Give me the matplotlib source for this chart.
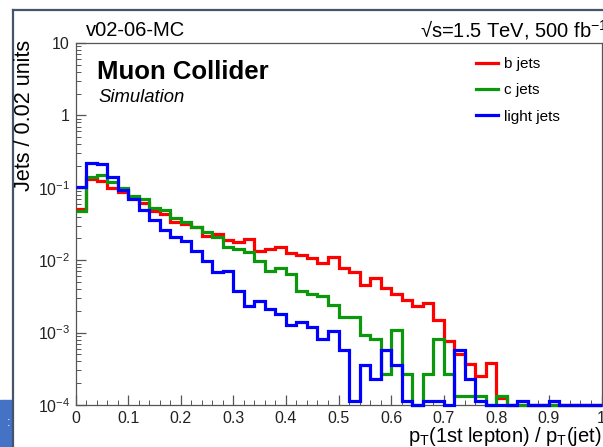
import matplotlib.pyplot as plt
import numpy as np
from matplotlib.lines import Line2D
from matplotlib.patches import Rectangle
from matplotlib.ticker import FixedLocator, FuncFormatter, LogLocator, MultipleLocator, NullFormatter

plt.rcParams["font.family"] = ["Liberation Sans", "DejaVu Sans"]
plt.rcParams["mathtext.fontset"] = "custom"
plt.rcParams["mathtext.rm"] = "Liberation Sans"
plt.rcParams["mathtext.it"] = "Liberation Sans"
plt.rcParams["mathtext.bf"] = "Liberation Sans:bold"

# 50 bins of width 0.02 in pT(1st lepton)/pT(jet)
bin_edges = np.linspace(0.0, 1.0, 51)

b_jets = [0.051, 0.132, 0.124, 0.100, 0.087, 0.074, 0.061, 0.048, 0.043, 0.0333,
          0.0316, 0.0284, 0.0218, 0.0232, 0.0191, 0.0179, 0.0199, 0.0135, 0.0142, 0.0152,
          0.0126, 0.0117, 0.0107, 0.0092, 0.0110, 0.0079, 0.0068, 0.0046, 0.0056, 0.0041,
          0.0034, 0.0028, 0.0023, 0.0026, 0.0015, 0.00077, 0.00051, 0.00037, 0.00025, 0.00038,
          0.000123, 0, 0, 0, 0, 0, 0, 0, 0, 0]
c_jets = [0.048, 0.143, 0.151, 0.120, 0.098, 0.078, 0.069, 0.053, 0.049, 0.038,
          0.0333, 0.0284, 0.0243, 0.0206, 0.0152, 0.0144, 0.0131, 0.0098, 0.0071, 0.0078,
          0.0064, 0.00375, 0.0034, 0.0032, 0.0024, 0.00166, 0.00166, 0.00093, 0.00081, 0.00027,
          0.0011, 0.00027, 0, 0.00027, 0.00081, 0.00027, 0.000135, 0.000135, 0.000135, 0,
          0.000135, 0, 0, 0, 0, 0, 0, 0, 0, 0]
light_jets = [0.102, 0.222, 0.210, 0.141, 0.094, 0.070, 0.0487, 0.036, 0.026, 0.021,
              0.0186, 0.0134, 0.0099, 0.0068, 0.0072, 0.0038, 0.0023, 0.0027, 0.0021, 0.0018,
              0.00129, 0.00142, 0.00121, 0.00082, 0.00106, 0.00058, 0.000114, 0.00036, 0.00023, 0.00058,
              0.00036, 0.000114, 0, 0.000114, 0.000114, 0, 0.00058, 0.00023, 0.000114, 0,
              0, 0, 0.000114, 0, 0, 0.000114, 0, 0, 0, 0]

series = [("b jets", b_jets, "#ff0000"),
          ("c jets", c_jets, "#0c980c"),
          ("light jets", light_jets, "#0000ff")]

W, H = 603, 447
y_min, y_max = 1e-4, 10

fig = plt.figure(figsize=(W / 100, H / 100), dpi=100)

# slide frame remnants around the screenshot
fig.add_artist(Line2D([12.5 / W, 12.5 / W], [0, 1 - 10 / H], color="#44546a", lw=1.6,
                      transform=fig.transFigure))
fig.add_artist(Line2D([12.5 / W, 1], [1 - 10 / H, 1 - 10 / H], color="#44546a", lw=1.6,
                      transform=fig.transFigure))
fig.add_artist(Rectangle((0, 0), 11.5 / W, 47 / H, color="#4472c4", transform=fig.transFigure))
fig.text(9 / W, 24 / H, ":", color="white", fontsize=9, ha="center", va="center")

ax = fig.add_axes([75.5 / W, (H - 405) / H, (601.5 - 75.5) / W, (405 - 43) / H])

for label, vals, color in series:
    v = np.array(vals, dtype=float)
    v[v <= 0] = y_min  # empty bins sit on the frame, as in ROOT
    ax.stairs(v, bin_edges, baseline=None, color=color, lw=2.3, clip_on=False, zorder=3)

ax.set_yscale("log")
ax.set_xlim(0, 1)
ax.set_ylim(y_min, y_max)

ax.xaxis.set_major_locator(MultipleLocator(0.1))
ax.xaxis.set_minor_locator(MultipleLocator(0.02))
ax.xaxis.set_major_formatter(FuncFormatter(lambda x, p: f"{x:g}"))
ax.yaxis.set_major_locator(FixedLocator([1e-4, 1e-3, 1e-2, 1e-1, 1, 10]))
ax.yaxis.set_minor_locator(LogLocator(base=10, subs=np.arange(2, 10), numticks=20))
ax.yaxis.set_minor_formatter(NullFormatter())


def log_label(y, pos):
    if y >= 1:
        return f"{y:g}"
    return r"$10^{%d}$" % int(round(np.log10(y)))


ax.yaxis.set_major_formatter(FuncFormatter(log_label))
ax.tick_params(which="both", direction="in", top=False, right=False, color="#555555",
               labelsize=11.5, labelcolor="#222222")
ax.tick_params(which="major", length=7, width=0.9, pad=4)
ax.tick_params(which="minor", length=3.8, width=0.7)
for s in ax.spines.values():
    s.set_color("#555555")
    s.set_linewidth(0.9)

handles = [Line2D([], [], color=c, lw=2.3) for _, _, c in series]
ax.legend(handles, [s[0] for s in series], loc="upper left", frameon=False,
          bbox_to_anchor=(476 / W, 1 - 57 / H), bbox_transform=fig.transFigure,
          fontsize=11, handlelength=1.45, handletextpad=0.4, labelspacing=0.81,
          borderpad=0, borderaxespad=0)

fig.text(86 / W, 1 - 30 / H, "v02-06-MC", fontsize=14.5, ha="left", va="center")
fig.text(420 / W, 1 - 30 / H, "\u221as=1.5 TeV, 500 fb$^{-1}$", fontsize=14.5, ha="left", va="center")
fig.text(97 / W, 1 - 72 / H, "Muon Collider", fontsize=18.5, fontweight="bold", ha="left", va="center")
fig.text(98 / W, 1 - 97 / H, "Simulation", fontsize=13.3, fontstyle="italic", ha="left", va="center")
fig.text(25 / W, 1 - 40 / H, "Jets / 0.02 units", fontsize=15.5, rotation=90, ha="center", va="top")
fig.text(601 / W, 11 / H, "$p_{T}$(1st lepton) / $p_{T}$(jet)", fontsize=14.5, ha="right", va="center")

fig.savefig("out.png", dpi=100)
